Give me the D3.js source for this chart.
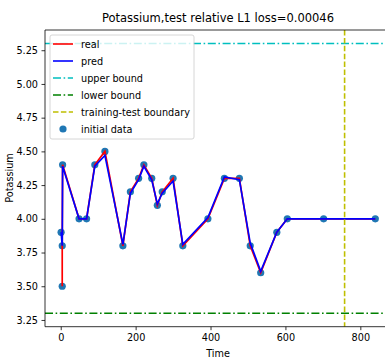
<!DOCTYPE html>
<html><head><meta charset="utf-8">
<script src="https://cdn.jsdelivr.net/npm/d3@7"></script>
<style>body{margin:0;background:#fff}svg{display:block;font-family:"DejaVu Sans",sans-serif}</style>
</head><body><svg id="c" width="385" height="361"></svg>
<script>
const realTime = [4, 4, 5, 49, 69, 91, 118, 166, 186, 208, 222, 243, 258, 271, 300, 326, 393, 437, 477, 506, 534, 577, 605, 702, 840];
const realVals = [3.5, 3.8, 4.4, 4.0, 4.0, 4.4, 4.5, 3.8, 4.2, 4.3, 4.4, 4.3, 4.1, 4.2, 4.3, 3.8, 4.0, 4.3, 4.3, 3.8, 3.6, 3.9, 4.0, 4.0, 4.0];
const predTime = [1, 4, 5, 49, 69, 91, 118, 166, 186, 208, 222, 243, 258, 271, 300, 326, 393, 437, 477, 506, 534, 577, 605, 702, 840];
const predVals = [3.9, 3.8, 4.39, 4.0, 4.0, 4.39, 4.47, 3.81, 4.19, 4.29, 4.39, 4.29, 4.11, 4.19, 4.28, 3.81, 4.01, 4.31, 4.29, 3.82, 3.61, 3.9, 4.0, 4.0, 4.0];
const dataTime = [1, 4, 4, 5, 49, 69, 91, 118, 166, 186, 208, 222, 243, 258, 271, 300, 326, 393, 437, 477, 506, 534, 577, 605, 702, 840];
const dataVals = [3.9, 3.5, 3.8, 4.4, 4.0, 4.0, 4.4, 4.5, 3.8, 4.2, 4.3, 4.4, 4.3, 4.1, 4.2, 4.3, 3.8, 4.0, 4.3, 4.3, 3.8, 3.6, 3.9, 4.0, 4.0, 4.0];
const upperBound = 5.3, lowerBound = 3.3, boundaryTime = 758;
const xTicks = [0, 200, 400, 600, 800];
const yTicks = [3.25, 3.5, 3.75, 4.0, 4.25, 4.5, 4.75, 5.0, 5.25];
const title = "Potassium,test relative L1 loss=0.00046";
const legendLabels = ["real", "pred", "upper bound", "lower bound", "training-test boundary", "initial data"];

const svg = d3.select("#c");
const L = 45, T = 30, B = 326.7;
const x = d3.scaleLinear().domain([-42, 882]).range([L, L + 924 * 0.3745]);
const y = d3.scaleLinear().domain([3.2, 5.4]).range([B, T]);
const fs = 9.7;

svg.append("clipPath").attr("id", "pc").append("rect")
  .attr("x", L).attr("y", T).attr("width", x.range()[1] - L).attr("height", B - T);
const g = svg.append("g").attr("clip-path", "url(#pc)");

g.selectAll("circle").data(dataTime.map((t, i) => [t, dataVals[i]])).enter().append("circle")
  .attr("cx", d => x(d[0])).attr("cy", d => y(d[1])).attr("r", 3.6).attr("fill", "#1f77b4");

const line = d3.line().x(d => x(d[0])).y(d => y(d[1]));
g.append("path").datum(realTime.map((t, i) => [t, realVals[i]])).attr("d", line)
  .attr("fill", "none").attr("stroke", "red").attr("stroke-width", 1.7);
g.append("path").datum(predTime.map((t, i) => [t, predVals[i]])).attr("d", line)
  .attr("fill", "none").attr("stroke", "blue").attr("stroke-width", 1.7);

const dashDot = "8,2.6,1.6,2.6";
g.append("line").attr("x1", L).attr("x2", 400).attr("y1", y(upperBound)).attr("y2", y(upperBound))
  .attr("stroke", "#00bfbf").attr("stroke-width", 1.6).attr("stroke-dasharray", dashDot);
g.append("line").attr("x1", L).attr("x2", 400).attr("y1", y(lowerBound)).attr("y2", y(lowerBound))
  .attr("stroke", "#008000").attr("stroke-width", 1.6).attr("stroke-dasharray", dashDot);
g.append("line").attr("x1", x(boundaryTime)).attr("x2", x(boundaryTime)).attr("y1", T).attr("y2", B)
  .attr("stroke", "#bfbf00").attr("stroke-width", 1.6).attr("stroke-dasharray", "5.5,2.4");

// axes
const xa = svg.append("g").attr("transform", `translate(0,${B})`)
  .call(d3.axisBottom(x).tickValues(xTicks).tickSize(3.5).tickPadding(3.5).tickFormat(d3.format("d")));
const ya = svg.append("g").attr("transform", `translate(${L},0)`)
  .call(d3.axisLeft(y).tickValues(yTicks).tickSize(3.5).tickPadding(3.5).tickFormat(d3.format(".2f")));
[xa, ya].forEach(a => {
  a.select(".domain").attr("stroke", "#000").attr("stroke-width", 0.8);
  a.selectAll(".tick line").attr("stroke", "#000").attr("stroke-width", 0.8);
  a.selectAll("text").attr("font-size", fs).attr("fill", "#000").attr("font-family", "DejaVu Sans");
});
xa.select(".domain").attr("d", `M${L},0H400`);
ya.select(".domain").attr("d", `M0,${T}V${B}`);
svg.append("line").attr("x1", L).attr("x2", 400).attr("y1", T).attr("y2", T).attr("stroke", "#000").attr("stroke-width", 0.8);

svg.append("text").attr("x", 218).attr("y", 22).attr("text-anchor", "middle").attr("font-size", 11.5).text(title);
svg.append("text").attr("x", 218).attr("y", 357).attr("text-anchor", "middle").attr("font-size", fs).text("Time");
svg.append("text").attr("transform", "translate(13,178) rotate(-90)").attr("text-anchor", "middle").attr("font-size", fs).text("Potassium");

// legend
const lg = svg.append("g");
lg.append("rect").attr("x", 50).attr("y", 35).attr("width", 144).attr("height", 104).attr("rx", 2)
  .attr("fill", "#fff").attr("fill-opacity", 0.8).attr("stroke", "#ccc").attr("stroke-width", 0.8);
const styles = [
  {c: "red", d: null}, {c: "blue", d: null}, {c: "#00bfbf", d: dashDot}, {c: "#008000", d: dashDot},
  {c: "#bfbf00", d: "5.5,2.4"}, {c: "#1f77b4", dot: true}];
legendLabels.forEach((lab, i) => {
  const yy = 44 + i * 17;
  const s = styles[i];
  if (s.dot) lg.append("circle").attr("cx", 63).attr("cy", yy).attr("r", 3.6).attr("fill", s.c);
  else lg.append("line").attr("x1", 53).attr("x2", 73).attr("y1", yy).attr("y2", yy)
    .attr("stroke", s.c).attr("stroke-width", 1.6).attr("stroke-dasharray", s.d);
  lg.append("text").attr("x", 81).attr("y", yy + 3.5).attr("font-size", fs).text(lab);
});
</script></body></html>
